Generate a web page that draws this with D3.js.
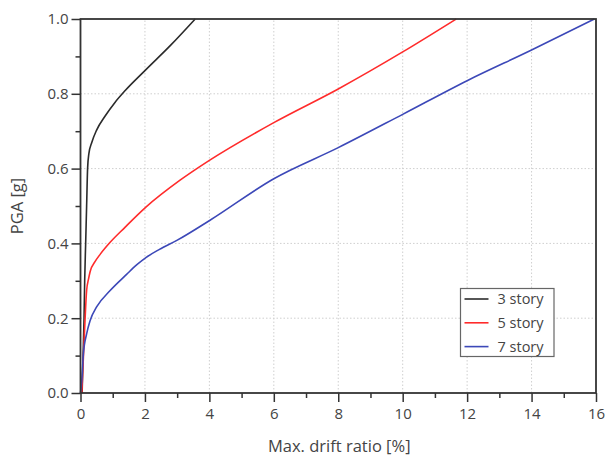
<!DOCTYPE html>
<html>
<head>
<meta charset="utf-8">
<script src="https://cdn.jsdelivr.net/npm/d3@7"></script>
<style>
  body { margin: 0; background: #fff; }
  text { font-family: "Open Sans", sans-serif; fill: #444; }
</style>
</head>
<body>
<script>
const width = 605, height = 458;
const margin = { top: 19, right: 9, bottom: 65, left: 80.5 };

// drift ratio [%] vs PGA [g]
const story3 = [[0.05,0],[0.08,0.1],[0.11,0.2],[0.13,0.3],[0.16,0.4],[0.19,0.5],[0.22,0.6],[0.26,0.64],
  [0.35,0.67],[0.5,0.703],[0.76,0.74],[1.07,0.777],[1.38,0.808],[2.0,0.862],[2.8,0.93],[3.56,1.0]];
const story5 = [[0.04,0],[0.09,0.096],[0.14,0.194],[0.19,0.274],[0.25,0.305],[0.3,0.325],[0.45,0.351],
  [0.62,0.372],[0.92,0.403],[1.38,0.443],[2.03,0.497],[3.09,0.569],[4.0,0.622],[6.0,0.723],
  [8.0,0.813],[10.0,0.912],[11.66,1.0]];
const story7 = [[0.0,0.0],[0.04,0.033],[0.09,0.105],[0.19,0.158],[0.3,0.194],[0.5,0.23],[0.92,0.274],
  [1.43,0.317],[1.75,0.343],[2.03,0.362],[2.45,0.384],[2.99,0.408],[4.02,0.462],[6.0,0.573],[8.0,0.656],
  [10.0,0.745],[12.0,0.835],[14.0,0.917],[15.95,1.0]];

const seriesNames = ["3 story", "5 story", "7 story"];
const seriesColors = ["#2b2b2b", "#ff2b2b", "#3c48b8"];
const seriesData = [story3, story5, story7];

const xMajor = [0, 2, 4, 6, 8, 10, 12, 14, 16];
const xMinor = [1, 3, 5, 7, 9, 11, 13, 15];
const yMajor = [0, 0.2, 0.4, 0.6, 0.8, 1.0];
const yMinor = [0.1, 0.3, 0.5, 0.7, 0.9];

const svg = d3.select("body").append("svg")
  .attr("width", width).attr("height", height);

const x = d3.scaleLinear().domain([0, 16]).range([margin.left, width - margin.right]);
const y = d3.scaleLinear().domain([0, 1]).range([height - margin.bottom, margin.top]);

// grid
svg.append("g").selectAll("line").data(xMajor.slice(1, -1)).join("line")
  .attr("x1", d => x(d)).attr("x2", d => x(d))
  .attr("y1", y(0)).attr("y2", y(1))
  .attr("stroke", "#cfcfcf").attr("stroke-dasharray", "1.5,2");
svg.append("g").selectAll("line").data(yMajor.slice(1, -1)).join("line")
  .attr("y1", d => y(d)).attr("y2", d => y(d))
  .attr("x1", x(0)).attr("x2", x(16))
  .attr("stroke", "#cfcfcf").attr("stroke-dasharray", "1.5,2");

// curves
const line = d3.line().x(d => x(d[0])).y(d => y(d[1])).curve(d3.curveMonotoneX);
svg.append("g").selectAll("path").data(seriesData).join("path")
  .attr("d", line)
  .attr("fill", "none")
  .attr("stroke", (d, i) => seriesColors[i])
  .attr("stroke-width", 1.6);

// axes
svg.append("g").attr("transform", `translate(0,${y(0)})`)
  .call(d3.axisBottom(x).tickValues(xMajor).tickFormat(d3.format("d")).tickSize(9).tickPadding(6));
svg.append("g").attr("transform", `translate(0,${y(0)})`)
  .call(d3.axisBottom(x).tickValues(xMinor).tickFormat("").tickSize(5));
svg.append("g").attr("transform", `translate(${x(0)},0)`)
  .call(d3.axisLeft(y).tickValues(yMajor).tickFormat(d3.format(".1f")).tickSize(9).tickPadding(3));
svg.append("g").attr("transform", `translate(${x(0)},0)`)
  .call(d3.axisLeft(y).tickValues(yMinor).tickFormat("").tickSize(5));

svg.selectAll(".domain").remove();
svg.selectAll(".tick line").attr("stroke", "#333").attr("stroke-width", 1.5);
svg.selectAll(".tick text").style("font-size", "15px").attr("fill", "#444");

// frame
svg.append("rect")
  .attr("x", x(0)).attr("y", y(1))
  .attr("width", x(16) - x(0)).attr("height", y(0) - y(1))
  .attr("fill", "none").attr("stroke", "#333").attr("stroke-width", 1.8);

// axis titles
svg.append("text")
  .attr("x", (x(0) + x(16)) / 2 + 1).attr("y", 452)
  .attr("text-anchor", "middle").style("font-size", "16.5px")
  .text("Max. drift ratio [%]");
svg.append("text")
  .attr("transform", `translate(23,${(y(0) + y(1)) / 2}) rotate(-90)`)
  .attr("text-anchor", "middle").style("font-size", "16.5px")
  .text("PGA [g]");

// legend
const legend = svg.append("g").attr("transform", "translate(460.5,288.5)");
legend.append("rect").attr("width", 93.5).attr("height", 68)
  .attr("fill", "#fff").attr("stroke", "#666").attr("stroke-width", 1.2);
const rows = legend.selectAll("g").data(seriesNames).join("g")
  .attr("transform", (d, i) => `translate(0,${10.5 + i * 23.8})`);
rows.append("line").attr("x1", 4).attr("x2", 28)
  .attr("stroke", (d, i) => seriesColors[i]).attr("stroke-width", 1.6);
rows.append("text").attr("x", 37).attr("dy", "0.35em")
  .style("font-size", "14.5px").attr("fill", "#333")
  .text(d => d);
</script>
</body>
</html>
